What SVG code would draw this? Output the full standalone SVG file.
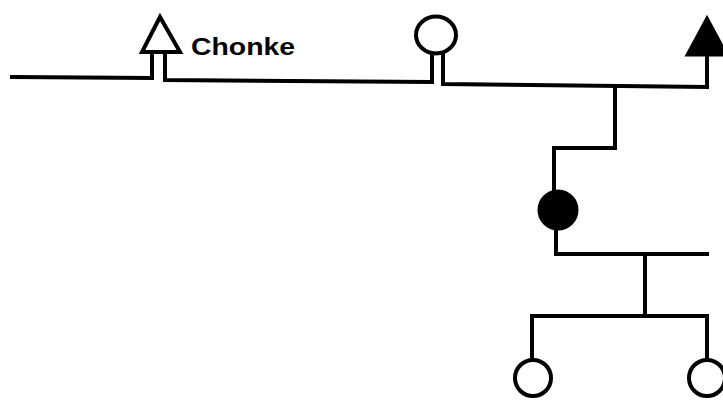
<svg xmlns="http://www.w3.org/2000/svg" width="723" height="400" viewBox="0 0 723 400">
<style>
.ln{fill:none;stroke:#000;stroke-width:4;stroke-linejoin:miter;stroke-linecap:square}
.open{fill:#fff;stroke:#000;stroke-width:4}
.solid{fill:#000;stroke:#000;stroke-width:3}
.lbl{font-family:"Liberation Sans",Arial,sans-serif;font-weight:bold;font-size:23px;fill:#000}
</style>
<rect width="723" height="400" fill="#fff"/>
<g id="connectors">
<path class="ln" d="M12,77 L152,78 L152,52 M165,52 L165,80 L432,82 L432,54 M443,54 L443,84 L707,87 L707,55"/>
<path class="ln" d="M615,87 L615,148 L554,148 L554,192"/>
<path class="ln" d="M556,228 L556,254 L707,254"/>
<path class="ln" d="M645,254 L645,316 L532,316 L532,360 M645,316 L707,316 L707,360"/>
</g>
<g id="chonke">
<polygon class="open" points="160,17 142,52 180,52"/>
<text class="lbl" x="191" y="55" textLength="104" lengthAdjust="spacingAndGlyphs">Chonke</text>
</g>
<g id="wife">
<ellipse class="open" cx="436" cy="35" rx="20" ry="18.5"/>
</g>
<g id="male-right">
<polygon class="solid" points="707,18 687,55 727,55"/>
</g>
<g id="female-filled">
<circle class="solid" cx="558" cy="210" r="19"/>
</g>
<g id="child-left">
<circle class="open" cx="533" cy="378" r="18"/>
</g>
<g id="child-right">
<circle class="open" cx="707" cy="378" r="18"/>
</g>
</svg>
